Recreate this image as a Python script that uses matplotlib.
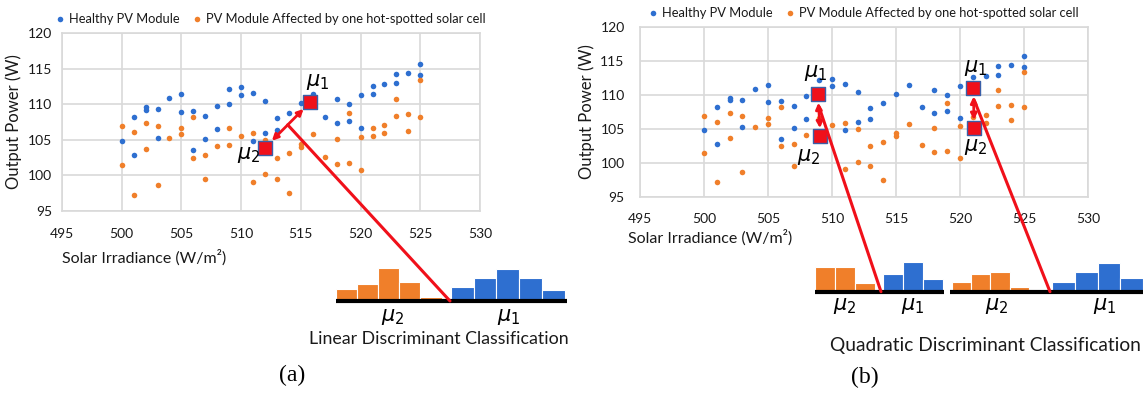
import matplotlib
matplotlib.use('Agg')
import matplotlib.pyplot as plt
from matplotlib.patches import ConnectionPatch
import numpy as np

# ---------------- data ----------------
healthy_irr = [500, 501, 501, 502, 502, 503, 503, 504, 505, 505, 506, 506, 507, 507,
               508, 508, 509, 509, 510, 510, 511, 511, 512, 512, 513, 513, 514, 515,
               516, 517, 518, 518, 519, 519, 520, 520, 521, 521, 522, 523, 523, 524,
               525, 525]
healthy_pow = [104.8, 108.2, 102.8, 109.6, 109.2, 109.3, 105.3, 110.9, 111.4, 108.9,
               109.1, 103.5, 108.4, 105.1, 109.8, 106.5, 112.2, 110.0, 112.4, 111.3,
               111.6, 104.8, 110.4, 106.0, 108.1, 106.4, 108.8, 110.2, 111.5, 108.2,
               110.7, 107.3, 110.0, 107.6, 111.3, 106.6, 112.6, 111.4, 112.8, 114.2,
               113.0, 114.4, 115.7, 114.1]

fault_irr = [500, 500, 501, 501, 502, 502, 503, 503, 504, 505, 505, 506, 506, 507,
             507, 508, 509, 509, 510, 511, 511, 512, 512, 513, 513, 514, 514, 515,
             515, 516, 517, 518, 518, 519, 519, 520, 520, 521, 521, 522, 522, 523,
             523, 524, 524, 525, 525]
fault_pow = [106.9, 101.5, 106.1, 97.2, 107.4, 103.7, 106.9, 98.7, 105.3, 106.6,
             105.8, 108.2, 102.5, 102.8, 99.5, 104.1, 106.6, 104.3, 105.6, 105.9,
             99.1, 105.0, 100.2, 102.5, 99.5, 103.1, 97.5, 104.4, 104.0, 105.8,
             102.6, 105.1, 101.6, 108.8, 101.8, 105.4, 100.8, 106.7, 105.6, 107.1,
             105.9, 110.7, 108.4, 108.6, 106.3, 113.4, 108.2]

x_ticks = [495, 500, 505, 510, 515, 520, 525, 530]
y_ticks = [95, 100, 105, 110, 115, 120]

# class means (mu1 = healthy, mu2 = faulty)
lda_mu1 = (515.8, 110.3)
lda_mu2 = (512.0, 103.9)
qda_mu1_a = (508.9, 110.1)
qda_mu2_a = (509.1, 103.9)
qda_mu1_b = (521.05, 111.0)
qda_mu2_b = (521.1, 105.1)

# projected distributions (relative counts)
lda_orange = [3.5, 5.0, 10.0, 5.8, 1.2, 0.8]
lda_blue = [4.2, 6.9, 9.7, 6.9, 3.2]
qda1_orange = [7.3, 7.3, 2.5]
qda1_blue = [5.2, 9.0, 3.9]
qda2_orange = [2.8, 5.2, 6.0, 1.3, 0.7]
qda2_blue = [2.8, 6.0, 8.7, 4.0]

label_healthy = 'Healthy PV Module'
label_fault = 'PV Module Affected by one hot-spotted solar cell'

# ---------------- style ----------------
plt.rcParams['font.family'] = ['Lato', 'DejaVu Sans']
plt.rcParams['mathtext.fontset'] = 'dejavusans'

W, H = 1147, 395
fig = plt.figure(figsize=(W / 100, H / 100), dpi=100)

BLUE = '#2E6FD0'
ORANGE = '#F07F2A'
GRID = '#D9D9D9'
RED = '#F0101A'
TXT = '#1a1a1a'


def fr(x0, y0, x1, y1):
    return [x0 / W, 1 - y1 / H, (x1 - x0) / W, (y1 - y0) / H]


def scatter_panel(box, ypad, xpad, xlab_pos, ylab_pos):
    ax = fig.add_axes(fr(*box))
    ax.scatter(healthy_irr, healthy_pow, s=16, color=BLUE, zorder=3,
               linewidths=0, label=label_healthy)
    ax.scatter(fault_irr, fault_pow, s=16, color=ORANGE, zorder=3,
               linewidths=0, label=label_fault)
    ax.set_xlim(495, 530)
    ax.set_ylim(95, 120)
    ax.set_xticks(x_ticks)
    ax.set_yticks(y_ticks)
    ax.grid(True, color=GRID, lw=1.2)
    ax.set_axisbelow(True)
    for s in ax.spines.values():
        s.set_color(GRID)
        s.set_linewidth(1.2)
    ax.tick_params(axis='x', length=0, labelsize=10, pad=xpad, colors=TXT)
    ax.tick_params(axis='y', length=0, labelsize=10, pad=ypad, colors=TXT)
    ax.set_xlabel('Solar Irradiance (W/m²)', fontsize=11.5, color=TXT,
                  ha='left', va='center')
    ax.xaxis.set_label_coords(*xlab_pos)
    ax.set_ylabel('Output Power (W)', fontsize=12, color=TXT,
                  ha='center', va='center')
    ax.yaxis.set_label_coords(*ylab_pos)
    ax.legend(loc='lower center', bbox_to_anchor=(0.5, 1.0), ncol=2,
              frameon=False, fontsize=9.3, handlelength=0.6, handletextpad=0.4,
              columnspacing=1.0, borderaxespad=0.2, scatteryoffsets=[0.5],
              markerscale=1.0, labelcolor=TXT)
    return ax


def mean_markers(ax, mu1, mu2, lab1, lab2, arrow_shrink=7):
    ax.annotate('', xy=mu1, xytext=mu2,
                arrowprops=dict(arrowstyle='<|-|>', color=RED, lw=2.0,
                                mutation_scale=9, shrinkA=arrow_shrink,
                                shrinkB=arrow_shrink), zorder=5)
    for m in (mu1, mu2):
        ax.scatter([m[0]], [m[1]], marker='s', s=95, color=RED,
                   edgecolors='#3A5FA8', linewidths=1.0, zorder=6)
    ax.text(lab1[0], lab1[1], r'$\mu_1$', fontsize=15, ha='center', va='center', zorder=7)
    ax.text(lab2[0], lab2[1], r'$\mu_2$', fontsize=15, ha='center', va='center', zorder=7)


def hist_panel(x0, x1, base, o_h, o_x0, o_w, b_h, b_x0, b_w):
    ax = fig.add_axes(fr(x0, base - 40, x1, base))
    ax.set_xlim(x0, x1)
    ax.set_ylim(0, 12)
    ax.axis('off')
    ax.bar(o_x0 + o_w * np.arange(len(o_h)), o_h, width=o_w, align='edge',
           color=ORANGE, edgecolor='white', linewidth=0.8)
    ax.bar(b_x0 + b_w * np.arange(len(b_h)), b_h, width=b_w, align='edge',
           color=BLUE, edgecolor='white', linewidth=0.8)
    ax.plot([x0, x1], [0, 0], color='black', lw=3, solid_capstyle='butt',
            clip_on=False, zorder=4)
    return ax


def connect(ax_from, xy_from, ax_to, xy_to):
    con = ConnectionPatch(xyA=xy_from, coordsA='data', axesA=ax_from,
                          xyB=xy_to, coordsB='data', axesB=ax_to,
                          color=RED, lw=2.2, zorder=10)
    fig.add_artist(con)


# ---------------- panel (a) ----------------
ax_a = scatter_panel((62, 33, 480, 211), ypad=7, xpad=12,
                     xlab_pos=(0.0, -0.26), ylab_pos=(-0.115, 0.5))
mean_markers(ax_a, lda_mu1, lda_mu2, (516.4, 113.1), (510.6, 102.9))
h_a = hist_panel(335.7, 566.7, 301, lda_orange, 335.7, 21.2, lda_blue, 451, 22.7)
connect(ax_a, ((lda_mu1[0] + lda_mu2[0]) / 2, (lda_mu1[1] + lda_mu2[1]) / 2), h_a, (450, 0))
fig.text(392.7 / W, 1 - 317 / H, r'$\mu_2$', fontsize=15, ha='center', va='center')
fig.text(508.3 / W, 1 - 317 / H, r'$\mu_1$', fontsize=15, ha='center', va='center')
fig.text(439 / W, 1 - 339 / H, 'Linear Discriminant Classification', fontsize=12.8,
         ha='center', va='center', color=TXT)
fig.text(292 / W, 1 - 375 / H, '(a)', fontsize=17, ha='center', va='center',
         family='Liberation Serif')

# ---------------- panel (b) ----------------
ax_b = scatter_panel((640, 27, 1088, 197), ypad=11, xpad=11.5,
                     xlab_pos=(-0.027, -0.24), ylab_pos=(-0.12, 0.5))
mean_markers(ax_b, qda_mu1_a, qda_mu2_a, (508.7, 113.2), (508.2, 100.9), arrow_shrink=6)
mean_markers(ax_b, qda_mu1_b, qda_mu2_b, (521.2, 114.0), (521.2, 102.4), arrow_shrink=6)
h_b1 = hist_panel(815, 944, 291.7, qda1_orange, 815, 20, qda1_blue, 882.7, 20.2)
h_b2 = hist_panel(950, 1143, 291.7, qda2_orange, 951.7, 19.3, qda2_blue, 1051.7, 22.9)
connect(ax_b, (509.0, 108.2), h_b1, (881, 0))
connect(ax_b, (521.1, 109.3), h_b2, (1050, 0))
for x, t in [(845, r'$\mu_2$'), (913, r'$\mu_1$'), (997, r'$\mu_2$'), (1105, r'$\mu_1$')]:
    fig.text(x / W, 1 - 306 / H, t, fontsize=15, ha='center', va='center')
fig.text(985 / W, 1 - 345 / H, 'Quadratic Discriminant Classification', fontsize=13.8,
         ha='center', va='center', color=TXT)
fig.text(865 / W, 1 - 377 / H, '(b)', fontsize=17, ha='center', va='center',
         family='Liberation Serif')

fig.savefig('out.png', dpi=100)
